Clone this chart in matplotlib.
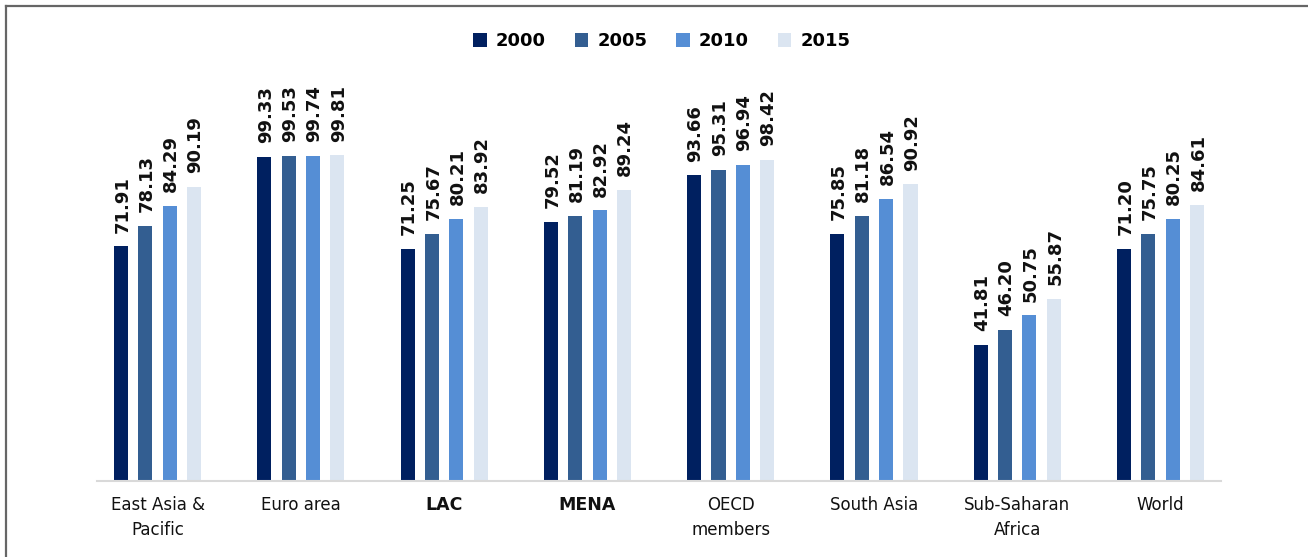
import matplotlib.pyplot as plt
from matplotlib.lines import Line2D
import numpy as np

# data
regions = ['East Asia &\nPacific', 'Euro area', 'LAC', 'MENA', 'OECD\nmembers',
           'South Asia', 'Sub-Saharan\nAfrica', 'World']
years = ['2000', '2005', '2010', '2015']
v2000 = [71.91, 99.33, 71.25, 79.52, 93.66, 75.85, 41.81, 71.20]
v2005 = [78.13, 99.53, 75.67, 81.19, 95.31, 81.18, 46.20, 75.75]
v2010 = [84.29, 99.74, 80.21, 82.92, 96.94, 86.54, 50.75, 80.25]
v2015 = [90.19, 99.81, 83.92, 89.24, 98.42, 90.92, 55.87, 84.61]
series = [v2000, v2005, v2010, v2015]
colors = ['#002060', '#335e91', '#558ed5', '#dbe5f1']

fig = plt.figure(figsize=(13.08, 5.57), dpi=100)
ax = fig.add_axes([0.0657, 0.1364, 0.8763, 0.7556])

x = np.arange(len(regions))
step = 0.17
width = 0.098
for i, (vals, col, yr) in enumerate(zip(series, colors, years)):
    pos = x + (i - 1.5) * step
    bars = ax.bar(pos, vals, width, color=col, label=yr)
    for b, v in zip(bars, vals):
        ax.annotate(f'{v:.2f}', (b.get_x() + b.get_width() / 2, v),
                    xytext=(1, 10), textcoords='offset points',
                    rotation=90, ha='center', va='bottom',
                    fontsize=13, fontweight='bold', color='#111111')

ax.set_xlim(-0.5, 7.5)
ax.set_ylim(0, 129)
ax.set_yticks([])
ax.set_xticks(x)
ax.set_xticklabels(regions, fontsize=12, linespacing=1.45, color='#111111')
for lbl in ax.get_xticklabels():
    if lbl.get_text() in ('LAC', 'MENA'):
        lbl.set_fontweight('bold')
        lbl.set_fontsize(12.5)
ax.tick_params(axis='x', length=0, pad=11)
for s in ['top', 'left', 'right']:
    ax.spines[s].set_visible(False)
ax.spines['bottom'].set_color('#d9d9d9')
ax.spines['bottom'].set_linewidth(1.5)
ax.spines['bottom'].set_bounds(-0.42, 7.42)

fig.legend(loc='center', bbox_to_anchor=(0.506, 0.926), ncol=4, frameon=False,
           prop={'size': 13, 'weight': 'bold'}, handlelength=0.75, handleheight=0.75,
           handletextpad=0.5, columnspacing=1.6)

# frame lines on top and left
fig.add_artist(Line2D([0.0046, 1.0], [0.989, 0.989], color='#666666', lw=1.6))
fig.add_artist(Line2D([0.0046, 0.0046], [0.0, 0.989], color='#666666', lw=1.6))

fig.savefig('out.png', dpi=100)
